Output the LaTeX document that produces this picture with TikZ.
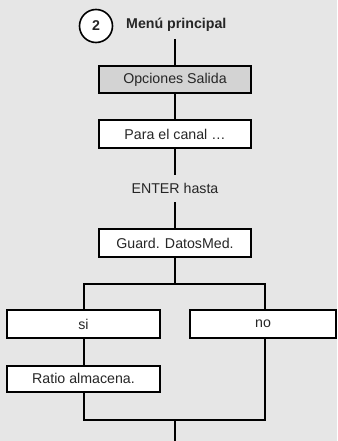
\documentclass[tikz,border=0pt]{standalone}
\usepackage{fontspec}
\setmainfont{Liberation Sans}
\definecolor{bg}{HTML}{E6E6E6}
\definecolor{boxgray}{HTML}{D3D3D3}
\begin{document}
\begin{tikzpicture}[x=1pt,y=-1pt,
  every node/.style={font=\fontsize{14.2}{16}\selectfont, text=black!85},
  ln/.style={line width=2pt, draw=black},
  stepbox/.style={draw=black, line width=2pt, fill=white, minimum width=152pt, minimum height=27pt, inner sep=0pt},
  branchbox/.style={stepbox, minimum width=153pt}
]
\fill[bg] (0,0) rectangle (337,441);
\useasboundingbox (0,0) rectangle (337,441);

\node[circle, draw=black, line width=1.6pt, fill=white, minimum size=33pt, inner sep=0pt, font=\fontsize{14.2}{16}\selectfont\bfseries] (two) at (96,26) {2};
\node[anchor=west, inner sep=0pt, font=\fontsize{14.2}{16}\selectfont\bfseries] (menu) at (126,25) {Menú principal};
\coordinate (mtop) at (175,39);

\node[stepbox, fill=boxgray] (opc) at (175,79.5) {Opciones Salida};
\node[stepbox, minimum height=28pt] (para) at (175,134) {Para el canal \dots};
\node (enter) at (175,188) {ENTER hasta};
\node[stepbox, minimum height=28pt] (guard) at (175,243) {Guard. DatosMed.};

\node[branchbox, minimum height=28pt] (si) at (83.5,324) {si};
\node[stepbox, minimum width=146pt, minimum height=28pt] (no) at (263,324) {no};
\node[branchbox, minimum height=26pt] (ratio) at (83.5,378.5) {Ratio almacena.};

\coordinate (split) at (175,284);
\coordinate (sl) at (84,284);
\coordinate (sr) at (265,284);
\coordinate (jl) at (84,420);
\coordinate (jr) at (265,420);
\coordinate (join) at (175,420);
\coordinate (bottom) at (175,441);

\draw[ln] (mtop) -- (opc.north);
\draw[ln] (opc.south) -- (para.north);
\draw[ln] (para.south) -- (175,175);
\draw[ln] (175,202) -- (guard.north);
\draw[ln] (guard.south) -- (split);
\draw[ln] (si.north -| sl) -- (sl) -- (sr) -- (no.north -| sr);
\draw[ln] (si.south -| sl) -- (ratio.north -| sl);
\draw[ln] (ratio.south -| jl) -- (jl) -- (jr) -- (no.south -| jr);
\draw[ln] (join) -- (bottom);
\end{tikzpicture}
\end{document}
